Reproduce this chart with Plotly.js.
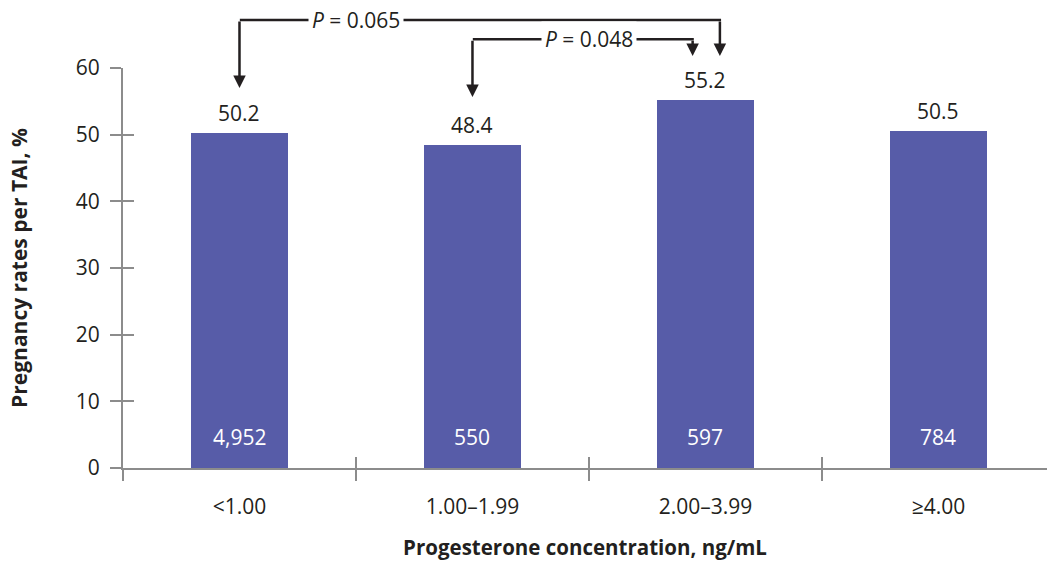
<!DOCTYPE html>
<html>
<head>
<meta charset="utf-8">
<script src="https://cdn.plot.ly/plotly-3.0.1.min.js"></script>
<style>html,body{margin:0;padding:0;background:#fff;}#chart{width:1047px;height:561px;}</style>
</head>
<body>
<div id="chart"></div>
<script>
// ---- data ----
const categories = ['<1.00', '1.00–1.99', '2.00–3.99', '≥4.00'];
const rates = [50.2, 48.4, 55.2, 50.5];
const counts = ['4,952', '550', '597', '784'];
const yTicks = [0, 10, 20, 30, 40, 50, 60];
// pairwise comparisons
const compFrom = [0, 1];
const compTo = [2, 2];
const pValues = ['0.065', '0.048'];

// ---- style ----
const FONT = 'Open Sans, Noto Sans, sans-serif';
const TXT = '#231f20';
const AX = '#8c8c8c';
const BAR = '#575ca8';
const FS = 21;

const W = 1047, H = 561;
const M = {l: 123, r: 0, t: 68, b: 93};
const yRange = [0, 60];
const pxPerY = (H - M.t - M.b) / (yRange[1] - yRange[0]);
const toPaper = v => (v - yRange[0]) / (yRange[1] - yRange[0]);

const traces = [
  {
    type: 'bar', x: categories, y: rates, width: 0.415,
    marker: {color: BAR}, hoverinfo: 'skip', showlegend: false
  },
  {
    type: 'scatter', mode: 'markers', x: categories, y: rates,
    xaxis: 'x2', yaxis: 'y2', marker: {opacity: 0}, hoverinfo: 'skip', showlegend: false
  }
];

const annotations = [];
// value labels above bars and counts inside bars
categories.forEach((c, i) => {
  annotations.push({x: i, y: rates[i], xref: 'x', yref: 'y', text: rates[i].toFixed(1),
    showarrow: false, yanchor: 'bottom', yshift: 4, font: {family: FONT, size: FS, color: TXT}});
  annotations.push({x: i, y: 0, xref: 'x', yref: 'y', text: counts[i],
    showarrow: false, yanchor: 'middle', yshift: 31, font: {family: FONT, size: FS, color: '#ffffff'}});
});

// comparison brackets (levels in y units, drawn above the plot area)
const bracketY = [67.2, 64.3];
const tipFrom = [57.0, 55.65];
const tipTo = [61.8, 61.8];
const toOffset = [0.062, -0.055];
const labelX = [0.5, 1.5];
const lineStyle = {arrowcolor: TXT, arrowwidth: 2.5};
compFrom.forEach((f, k) => {
  const t = compTo[k] + toOffset[k];
  const yb = bracketY[k];
  // horizontal
  annotations.push(Object.assign({x: t + 0.005, y: toPaper(yb), ax: f - 0.005, ay: 0,
    xref: 'x', yref: 'paper', axref: 'x', ayref: 'pixel',
    text: '', showarrow: true, arrowhead: 0, standoff: 0, startstandoff: 0}, lineStyle));
  // down arrows
  [[f, tipFrom[k]], [t, tipTo[k]]].forEach(([xx, tip]) => {
    annotations.push(Object.assign({x: xx, y: toPaper(tip), ax: xx, ay: -(yb - tip) * pxPerY,
      xref: 'x', yref: 'paper', axref: 'x', ayref: 'pixel',
      text: '', showarrow: true, arrowhead: 2, arrowsize: 1, standoff: 0, startstandoff: 0}, lineStyle));
  });
  // label
  annotations.push({x: labelX[k], y: toPaper(yb), xref: 'x', yref: 'paper', text: '<i>P</i> = ' + pValues[k],
    showarrow: false, bgcolor: '#ffffff', borderpad: 3, yanchor: 'middle',
    font: {family: FONT, size: FS, color: TXT}});
});

const xRange = [-0.5, 3.466];
const layout = {
  width: W, height: H,
  margin: M,
  paper_bgcolor: '#ffffff', plot_bgcolor: '#ffffff',
  font: {family: FONT, size: FS, color: TXT},
  showlegend: false,
  bargap: 0,
  xaxis: {
    type: 'category', range: xRange, tickson: 'boundaries',
    ticks: 'outside', ticklen: 11, tickwidth: 2, tickcolor: AX,
    showline: true, linecolor: AX, linewidth: 2, showgrid: false, zeroline: false,
    tickfont: {family: FONT, size: FS, color: TXT}, ticklabelstandoff: 19,
    title: {text: '<b>Progesterone concentration, ng/mL</b>', font: {family: FONT, size: 20.5, color: TXT}, standoff: 24},
    fixedrange: true
  },
  yaxis: {
    range: yRange, tickmode: 'array', tickvals: yTicks,
    ticks: 'outside', ticklen: 11, tickwidth: 2, tickcolor: AX,
    showline: true, linecolor: AX, linewidth: 2, showgrid: false, zeroline: false,
    tickfont: {family: FONT, size: FS, color: TXT}, ticklabelstandoff: 6,
    title: {text: '<b>Pregnancy rates per TAI, %</b>', font: {family: FONT, size: 21, color: TXT}, standoff: 42},
    fixedrange: true
  },
  xaxis2: {
    type: 'category', overlaying: 'x', range: xRange, tickson: 'boundaries',
    ticks: 'inside', ticklen: 11, tickwidth: 2, tickcolor: AX,
    showticklabels: false, showline: false, showgrid: false, zeroline: false, fixedrange: true
  },
  yaxis2: {
    overlaying: 'y', side: 'left', range: yRange, tickmode: 'array', tickvals: yTicks,
    ticks: 'inside', ticklen: 11, tickwidth: 2, tickcolor: AX,
    showticklabels: false, showline: false, showgrid: false, zeroline: false, fixedrange: true
  },
  annotations: annotations
};

Plotly.newPlot('chart', traces, layout, {displayModeBar: false, staticPlot: true});
</script>
</body>
</html>
